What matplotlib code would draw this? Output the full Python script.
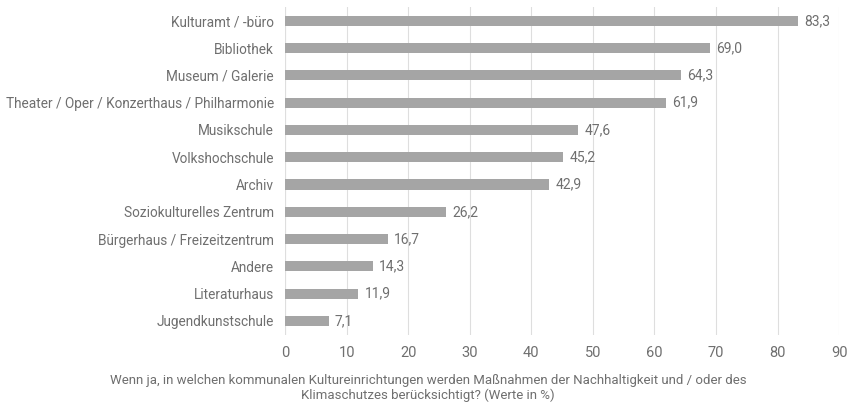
import matplotlib
matplotlib.use("Agg")
import matplotlib.pyplot as plt

categories = ["Kulturamt / -büro", "Bibliothek", "Museum / Galerie",
              "Theater / Oper / Konzerthaus / Philharmonie", "Musikschule",
              "Volkshochschule", "Archiv", "Soziokulturelles Zentrum",
              "Bürgerhaus / Freizeitzentrum", "Andere", "Literaturhaus",
              "Jugendkunstschule"]
values = [83.3, 69.0, 64.3, 61.9, 47.6, 45.2, 42.9, 26.2, 16.7, 14.3, 11.9, 7.1]
xticks = [0, 10, 20, 30, 40, 50, 60, 70, 80, 90]
xlabel = ("Wenn ja, in welchen kommunalen Kultureinrichtungen werden Maßnahmen der Nachhaltigkeit und / oder des\n"
          "Klimaschutzes berücksichtigt? (Werte in %)")

plt.rcParams['font.family'] = ['Roboto', 'DejaVu Sans']
txt = '#6f6f6f'

fig = plt.figure(figsize=(8.51, 4.04), dpi=100)
ax = fig.add_axes([0.335, 0.172, 0.651, 0.81])
y = list(range(len(categories)))
ax.barh(y, values, height=0.37, color='#a5a5a5', zorder=3)
for yi, v in zip(y, values):
    ax.text(v + 1.0, yi, f"{v:.1f}".replace('.', ','), va='center', ha='left',
            fontsize=10, color=txt)
ax.set_ylim(len(categories) - 0.5, -0.5)
ax.set_xlim(0, 90)
ax.set_xticks(xticks)
ax.set_yticks(y)
ax.set_yticklabels(categories, fontsize=9.8, color=txt)
ax.tick_params(axis='x', labelsize=10.5, colors=txt, length=0, pad=8)
ax.tick_params(axis='y', length=0, pad=8)
ax.grid(axis='x', color='#dedede', linewidth=0.8, zorder=0)
for s in ax.spines.values():
    s.set_visible(False)
ax.axvline(0, color='#dedede', linewidth=0.8, zorder=1)
fig.text(0.503, 0.004, xlabel, ha='center', va='bottom', fontsize=9.5, color=txt,
         linespacing=1.15)
fig.savefig("out.png", dpi=100)
